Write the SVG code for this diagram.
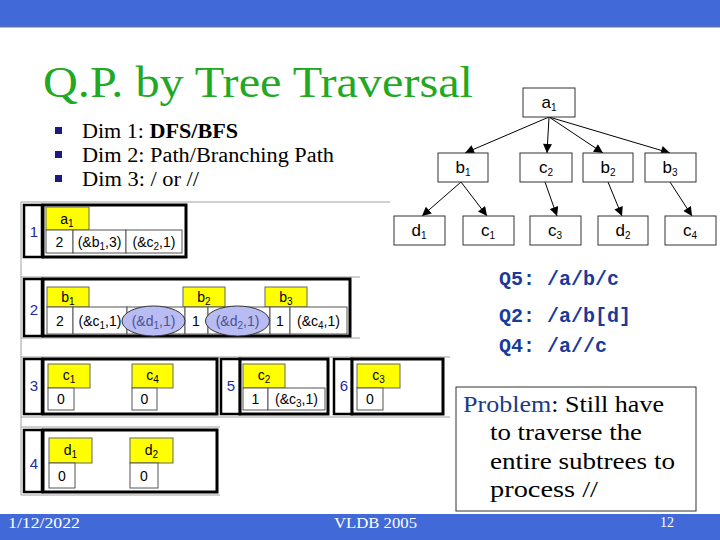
<svg xmlns="http://www.w3.org/2000/svg" width="720" height="540" viewBox="0 0 720 540">
<style>
.frame{fill:none;stroke:#a0a0a0;stroke-width:1}
.box{fill:#fff;stroke:#000;stroke-width:3}
.num{fill:#fff;stroke:#000;stroke-width:2.5}
.numt{font-family:"Liberation Sans",Arial,sans-serif;font-size:15px;fill:#1c2aa8;text-anchor:middle}
.yel{fill:#ffff00;stroke:#666;stroke-width:1}
.cell{fill:#fff;stroke:#555;stroke-width:1}
.ct{font-family:"Liberation Sans",Arial,sans-serif;font-size:14px;fill:#000;text-anchor:middle}
.et{font-family:"Liberation Sans",Arial,sans-serif;font-size:14px;fill:#4a5296;text-anchor:middle}
.ell{fill:#b8bcf2;stroke:#333;stroke-width:1}
.tn{fill:#fff;stroke:#333;stroke-width:1}
.tt{font-family:"Liberation Sans",Arial,sans-serif;font-size:17px;fill:#000;text-anchor:middle}
.sub{font-size:10px}
.serif{font-family:"Liberation Serif","Times New Roman",serif}
.q{font-family:"Liberation Mono","Courier New",monospace;font-weight:bold;font-size:20px;fill:#1a3a9a}
.edge{stroke:#000;stroke-width:1;fill:none;marker-end:url(#ah)}
</style>
<defs>
<marker id="ah" viewBox="0 0 10 10" refX="10" refY="5" markerWidth="11" markerHeight="9" markerUnits="userSpaceOnUse" orient="auto">
<path d="M0,0 L10,5 L0,10 z" fill="#000"/>
</marker>
</defs>
<rect x="0" y="0" width="720" height="26" fill="#4169d8"/>
<rect x="0" y="26" width="720" height="1.5" fill="#5a6fb8"/>
<rect x="0" y="514" width="720" height="26" fill="#4169d8"/>

<text x="43" y="97" class="serif" font-size="44" fill="#22a822" textLength="430" lengthAdjust="spacingAndGlyphs">Q.P. by Tree Traversal</text>

<g id="bullets">
<rect x="55" y="127" width="7" height="7" fill="#1a1a80"/>
<rect x="55" y="151" width="7" height="7" fill="#1a1a80"/>
<rect x="55" y="175" width="7" height="7" fill="#1a1a80"/>
<text x="82" y="138" class="serif" font-size="20" fill="#000" textLength="156" lengthAdjust="spacingAndGlyphs">Dim 1: <tspan font-weight="bold">DFS/BFS</tspan></text>
<text x="82" y="162" class="serif" font-size="20" fill="#000" textLength="252" lengthAdjust="spacingAndGlyphs">Dim 2: Path/Branching Path</text>
<text x="82" y="186" class="serif" font-size="20" fill="#000" textLength="117" lengthAdjust="spacingAndGlyphs">Dim 3: / or //</text>
</g>

<g id="connectors">
<line class="edge" x1="549" y1="117" x2="465" y2="153"/>
<line class="edge" x1="549" y1="117" x2="547" y2="153"/>
<line class="edge" x1="549" y1="117" x2="603" y2="153"/>
<line class="edge" x1="549" y1="117" x2="670" y2="153"/>
<line class="edge" x1="461" y1="182" x2="422" y2="216"/>
<line class="edge" x1="461" y1="182" x2="487" y2="216"/>
<line class="edge" x1="545" y1="182" x2="557" y2="216"/>
<line class="edge" x1="608" y1="182" x2="622" y2="216"/>
<line class="edge" x1="670" y1="182" x2="692" y2="216"/>
</g>

<g id="tree-a1"><rect class="tn" x="523" y="88" width="52" height="29"/><text class="tt" x="549" y="108">a<tspan class="sub" dy="3">1</tspan></text></g>
<g id="tree-b1"><rect class="tn" x="438" y="153" width="50" height="29"/><text class="tt" x="463" y="173">b<tspan class="sub" dy="3">1</tspan></text></g>
<g id="tree-c2"><rect class="tn" x="520" y="153" width="52" height="29"/><text class="tt" x="546" y="173">c<tspan class="sub" dy="3">2</tspan></text></g>
<g id="tree-b2"><rect class="tn" x="583" y="153" width="50" height="29"/><text class="tt" x="608" y="173">b<tspan class="sub" dy="3">2</tspan></text></g>
<g id="tree-b3"><rect class="tn" x="645" y="153" width="51" height="29"/><text class="tt" x="670" y="173">b<tspan class="sub" dy="3">3</tspan></text></g>
<g id="tree-d1"><rect class="tn" x="394" y="216" width="51" height="29"/><text class="tt" x="419" y="236">d<tspan class="sub" dy="3">1</tspan></text></g>
<g id="tree-c1"><rect class="tn" x="463" y="216" width="51" height="29"/><text class="tt" x="488" y="236">c<tspan class="sub" dy="3">1</tspan></text></g>
<g id="tree-c3"><rect class="tn" x="530" y="216" width="51" height="29"/><text class="tt" x="555" y="236">c<tspan class="sub" dy="3">3</tspan></text></g>
<g id="tree-d2"><rect class="tn" x="598" y="216" width="50" height="29"/><text class="tt" x="623" y="236">d<tspan class="sub" dy="3">2</tspan></text></g>
<g id="tree-c4"><rect class="tn" x="665" y="216" width="51" height="29"/><text class="tt" x="690" y="236">c<tspan class="sub" dy="3">4</tspan></text></g>

<g id="table-frame">
<line class="frame" x1="21" y1="202" x2="390" y2="202"/>
<line class="frame" x1="21" y1="202" x2="21" y2="495"/>
<line class="frame" x1="21" y1="277" x2="360" y2="277"/>
<line class="frame" x1="21" y1="338" x2="360" y2="338"/>
<line class="frame" x1="21" y1="357" x2="450" y2="357"/>
<line class="frame" x1="21" y1="417" x2="450" y2="417"/>
<line class="frame" x1="21" y1="427" x2="220" y2="427"/>
<line class="frame" x1="21" y1="495" x2="220" y2="495"/>
</g>

<g id="row1">
<rect class="num" x="24" y="205" width="18" height="52"/><text class="numt" x="34" y="237">1</text>
<rect class="box" x="43" y="205" width="143" height="52"/>
<rect class="yel" x="46" y="207" width="43" height="23"/><text class="ct" x="67" y="224">a<tspan class="sub" dy="3">1</tspan></text>
<rect class="cell" x="46" y="230" width="27" height="23"/><text class="ct" x="59.5" y="247">2</text>
<rect class="cell" x="73" y="230" width="53" height="23"/><text class="ct" x="99.5" y="247">(&amp;b<tspan class="sub" dy="3">1</tspan><tspan dy="-3">,3)</tspan></text>
<rect class="cell" x="126" y="230" width="56" height="23"/><text class="ct" x="154" y="247">(&amp;c<tspan class="sub" dy="3">2</tspan><tspan dy="-3">,1)</tspan></text>
</g>

<g id="row2">
<rect class="num" x="24" y="279" width="18" height="57"/><text class="numt" x="34" y="315">2</text>
<rect class="box" x="43" y="279" width="307" height="57"/>
<rect class="yel" x="47" y="287" width="42" height="20"/><text class="ct" x="68" y="302">b<tspan class="sub" dy="3">1</tspan></text>
<rect class="yel" x="183" y="287" width="42" height="20"/><text class="ct" x="204" y="302">b<tspan class="sub" dy="3">2</tspan></text>
<rect class="yel" x="265" y="287" width="42" height="20"/><text class="ct" x="286" y="302">b<tspan class="sub" dy="3">3</tspan></text>
<rect class="cell" x="47" y="307" width="26" height="27"/><text class="ct" x="60" y="326">2</text>
<rect class="cell" x="73" y="307" width="54" height="27"/><text class="ct" x="100" y="326">(&amp;c<tspan class="sub" dy="3">1</tspan><tspan dy="-3">,1)</tspan></text>
<rect class="cell" x="127" y="307" width="58" height="27"/>
<rect class="cell" x="185" y="307" width="23" height="27"/><text class="ct" x="196" y="326">1</text>
<rect class="cell" x="208" y="307" width="62" height="27"/>
<rect class="cell" x="270" y="307" width="20" height="27"/><text class="ct" x="280" y="326">1</text>
<rect class="cell" x="290" y="307" width="57" height="27"/><text class="ct" x="318.5" y="326">(&amp;c<tspan class="sub" dy="3">4</tspan><tspan dy="-3">,1)</tspan></text>
<ellipse class="ell" cx="153.5" cy="321" rx="31.5" ry="15"/><text class="et" x="153.5" y="326">(&amp;d<tspan class="sub" dy="3">1</tspan><tspan dy="-3">,1)</tspan></text>
<ellipse class="ell" cx="237.5" cy="321" rx="32" ry="15"/><text class="et" x="237.5" y="326">(&amp;d<tspan class="sub" dy="3">2</tspan><tspan dy="-3">,1)</tspan></text>
</g>

<g id="row3">
<rect class="num" x="24" y="359" width="18" height="55"/><text class="numt" x="34" y="391">3</text>
<rect class="box" x="43" y="359" width="174" height="55"/>
<rect class="yel" x="48" y="364" width="42" height="24"/><text class="ct" x="69" y="380">c<tspan class="sub" dy="3">1</tspan></text>
<rect class="cell" x="48" y="388" width="26" height="22"/><text class="ct" x="61" y="404">0</text>
<rect class="yel" x="132" y="364" width="41" height="24"/><text class="ct" x="152.5" y="380">c<tspan class="sub" dy="3">4</tspan></text>
<rect class="cell" x="132" y="388" width="25" height="22"/><text class="ct" x="144.5" y="404">0</text>
</g>

<g id="row5">
<rect class="num" x="221" y="359" width="19" height="55"/><text class="numt" x="231" y="391">5</text>
<rect class="box" x="240" y="359" width="88" height="55"/>
<rect class="yel" x="243" y="364" width="42" height="24"/><text class="ct" x="264" y="380">c<tspan class="sub" dy="3">2</tspan></text>
<rect class="cell" x="243" y="388" width="25" height="22"/><text class="ct" x="255.5" y="404">1</text>
<rect class="cell" x="268" y="388" width="57" height="22"/><text class="ct" x="296.5" y="404">(&amp;c<tspan class="sub" dy="3">3</tspan><tspan dy="-3">,1)</tspan></text>
</g>

<g id="row6">
<rect class="num" x="334" y="359" width="18" height="55"/><text class="numt" x="344" y="391">6</text>
<rect class="box" x="352" y="359" width="91" height="55"/>
<rect class="yel" x="357" y="364" width="43" height="24"/><text class="ct" x="378.5" y="380">c<tspan class="sub" dy="3">3</tspan></text>
<rect class="cell" x="357" y="388" width="26" height="22"/><text class="ct" x="370" y="404">0</text>
</g>

<g id="row4">
<rect class="num" x="24" y="430" width="18" height="62"/><text class="numt" x="34" y="469">4</text>
<rect class="box" x="43" y="430" width="174" height="62"/>
<rect class="yel" x="49" y="438" width="43" height="25"/><text class="ct" x="70.5" y="455">d<tspan class="sub" dy="3">1</tspan></text>
<rect class="cell" x="49" y="463" width="26" height="25"/><text class="ct" x="62" y="481">0</text>
<rect class="yel" x="130" y="438" width="43" height="25"/><text class="ct" x="151.5" y="455">d<tspan class="sub" dy="3">2</tspan></text>
<rect class="cell" x="130" y="463" width="28" height="25"/><text class="ct" x="144" y="481">0</text>
</g>

<g id="queries">
<text class="q" x="499" y="285">Q5: /a/b/c</text>
<text class="q" x="499" y="322">Q2: /a/b[d]</text>
<text class="q" x="499" y="352">Q4: /a//c</text>
</g>

<g id="problem">
<rect x="456" y="387" width="240" height="124" fill="#fff" stroke="#333" stroke-width="1"/>
<text x="463" y="412" class="serif" font-size="23" fill="#000" textLength="201" lengthAdjust="spacingAndGlyphs"><tspan fill="#1a3a8a">Problem</tspan>: Still have</text>
<text x="490" y="440" class="serif" font-size="23" fill="#000" textLength="152" lengthAdjust="spacingAndGlyphs">to traverse the</text>
<text x="490" y="469" class="serif" font-size="23" fill="#000" textLength="185" lengthAdjust="spacingAndGlyphs">entire subtrees to</text>
<text x="490" y="497" class="serif" font-size="23" fill="#000" textLength="108" lengthAdjust="spacingAndGlyphs">process //</text>
</g>

<g id="footer">
<text x="8" y="528" class="serif" font-size="15" fill="#fff" textLength="72" lengthAdjust="spacingAndGlyphs">1/12/2022</text>
<text x="334" y="528" class="serif" font-size="15" fill="#fff" textLength="83" lengthAdjust="spacingAndGlyphs">VLDB 2005</text>
<text x="660" y="527" class="serif" font-size="14" fill="#fff">12</text>
</g>
</svg>
